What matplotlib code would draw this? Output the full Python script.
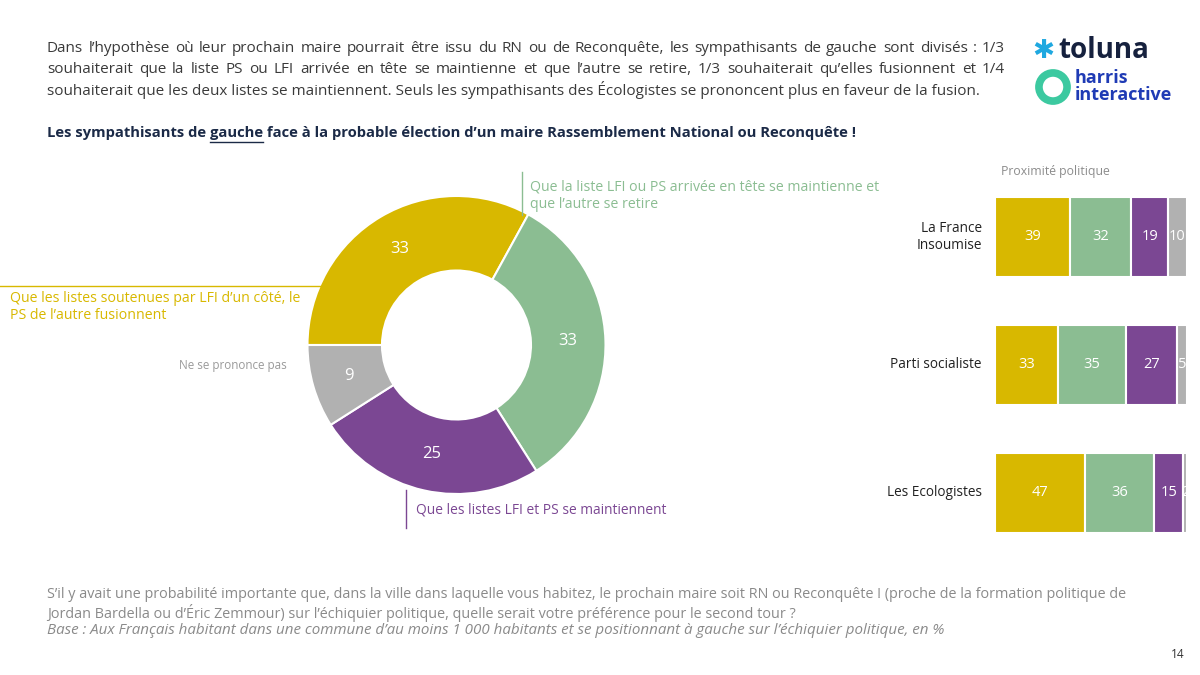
import matplotlib
matplotlib.use("Agg")
import matplotlib.pyplot as plt
from matplotlib.patches import Circle
from matplotlib.lines import Line2D
import numpy as np

plt.rcParams['font.family'] = ['Open Sans', 'DejaVu Sans']

# --- donnees ---
donut_labels = ["Que les listes soutenues par LFI d’un côté, le\nPS de l’autre fusionnent",
                "Que la liste LFI ou PS arrivée en tête se maintienne et\nque l’autre se retire",
                "Que les listes LFI et PS se maintiennent",
                "Ne se prononce pas"]
donut_values = [33, 33, 25, 9]

partis = ["La France\nInsoumise", "Parti socialiste", "Les Ecologistes"]
fusion = [39, 33, 47]
maintien_tete = [32, 35, 36]
maintien_deux = [19, 27, 15]
nsp = [10, 5, 2]

couleurs = ["#D8B800", "#8BBD92", "#7B4793", "#B1B1B1"]

W, H = 1200, 675
fig = plt.figure(figsize=(12, 6.75), dpi=100)
fig.patch.set_facecolor("white")


def fx(x):
    return x / W


def fy(y):
    return 1 - y / H


renderer = fig.canvas.get_renderer()


def largeur(s, **kw):
    t = fig.text(0, 0, s, **kw)
    w = t.get_window_extent(renderer).width
    t.remove()
    return w


# --- texte d'intro (justifie) ---
intro = [
    "Dans l’hypothèse où leur prochain maire pourrait être issu du RN ou de Reconquête, les sympathisants de gauche sont divisés : 1/3",
    "souhaiterait que la liste PS ou LFI arrivée en tête se maintienne et que l’autre se retire, 1/3 souhaiterait qu’elles fusionnent et 1/4",
    "souhaiterait que les deux listes se maintiennent. Seuls les sympathisants des Écologistes se prononcent plus en faveur de la fusion.",
]
style_intro = dict(fontsize=11.0, color="#3a3a3a", va="center")
x0, x1 = 47, 1005
for i, ligne in enumerate(intro):
    y = 49 + i * 20.5
    if i == len(intro) - 1:
        fig.text(fx(x0), fy(y), ligne, **style_intro)
        continue
    mots = ligne.split(" ")
    ws = [largeur(m, **style_intro) for m in mots]
    gap = (x1 - x0 - sum(ws)) / (len(mots) - 1)
    x = x0
    for m, w in zip(mots, ws):
        fig.text(fx(x), fy(y), m, **style_intro)
        x += w + gap

# --- sous-titre avec "gauche" souligne ---
style_st = dict(fontsize=10.6, color="#1B2A47", fontweight="bold", va="center")
sous_titre = "Les sympathisants de gauche face à la probable élection d’un maire Rassemblement National ou Reconquête !"
fig.text(fx(47), fy(133), sous_titre, **style_st)
u1 = 47 + largeur("Les sympathisants de gauche", **style_st)
u0 = u1 - largeur("gauche", **style_st)
fig.add_artist(Line2D([fx(u0), fx(u1)], [fy(142), fy(142)], color="#1B2A47", lw=1))

# --- logo ---
fig.text(fx(1043), fy(51), "✱", fontsize=19, color="#1FA8E0", ha="center", va="center",
         family=["DejaVu Sans"])
fig.text(fx(1058), fy(50), "toluna", fontsize=20, color="#16213E", fontweight="bold", va="center")
ax_logo = fig.add_axes([fx(1034), fy(106), fx(38), 38 / H])
ax_logo.set_xlim(-1, 1)
ax_logo.set_ylim(-1, 1)
ax_logo.set_aspect("equal")
ax_logo.axis("off")
ax_logo.add_patch(Circle((0, 0), 0.74, fill=False, lw=5.5, ec="#3CC9A0"))
fig.text(fx(1075), fy(78), "harris", fontsize=13, color="#1F3BB5", fontweight="bold", va="center")
fig.text(fx(1075), fy(95), "interactive", fontsize=13, color="#1F3BB5", fontweight="bold", va="center")

# --- donut ---
cx, cy, R = 456.5, 345, 149
demi = 160
ax = fig.add_axes([fx(cx - demi), fy(cy + demi), 2 * demi / W, 2 * demi / H])
lim = demi / R
wedges, _ = ax.pie(donut_values, colors=couleurs, startangle=180, counterclock=False,
                   radius=1, wedgeprops=dict(width=0.5, edgecolor="white", linewidth=1.5))
ax.set_xlim(-lim, lim)
ax.set_ylim(-lim, lim)
for wdg, v in zip(wedges, donut_values):
    a = np.deg2rad((wdg.theta1 + wdg.theta2) / 2)
    ax.text(0.75 * np.cos(a), 0.75 * np.sin(a), str(v), ha="center", va="center",
            color="white", fontsize=12)

# annotations du donut
fig.text(fx(10), fy(307), donut_labels[0], fontsize=10.15, color=couleurs[0], va="center",
         linespacing=1.25)
fig.add_artist(Line2D([0, fx(322)], [fy(286), fy(286)], color=couleurs[0], lw=1))

fig.text(fx(530), fy(196), donut_labels[1], fontsize=10.2, color=couleurs[1], va="center",
         linespacing=1.25)
fig.add_artist(Line2D([fx(522), fx(522)], [fy(172), fy(215)], color=couleurs[1], lw=1))

fig.text(fx(416), fy(510), donut_labels[2], fontsize=9.9, color=couleurs[2], va="center")
fig.add_artist(Line2D([fx(406), fx(406)], [fy(490), fy(528)], color=couleurs[2], lw=1))

fig.text(fx(287), fy(365), donut_labels[3], fontsize=8.4, color="#9a9a9a", va="center", ha="right")

# --- barres empilees ---
bx0, bx1 = 995, 1190
by0, by1 = 173, 557
axb = fig.add_axes([fx(bx0), fy(by1), (bx1 - bx0) / W, (by1 - by0) / H])
pos = np.arange(len(partis))
series = [fusion, maintien_tete, maintien_deux, nsp]
gauche = np.zeros(len(partis))
for serie, c in zip(series, couleurs):
    axb.barh(pos, serie, left=gauche, height=0.625, color=c, edgecolor="white", linewidth=1.5)
    for p, v, l in zip(pos, serie, gauche):
        axb.text(l + v / 2, p, str(v), ha="center", va="center", color="white",
                 fontsize=10.5, clip_on=True)
    gauche += np.array(serie)
axb.set_xlim(0, (bx1 - bx0) / 1.92)
axb.set_ylim(2.5, -0.5)
axb.axis("off")

for p, nom in zip(pos, partis):
    fig.text(fx(982), fy(237 + p * 128), nom, ha="right", va="center", fontsize=9.8,
             color="#222222", multialignment="right", linespacing=1.25)

fig.text(fx(1001), fy(172), "Proximité politique", fontsize=8.8, color="#8c8c8c", va="center")

# --- pied de page ---
pied = dict(color="#8a8a8a", va="center")
fig.text(fx(47), fy(594), "S’il y avait une probabilité importante que, dans la ville dans laquelle vous habitez, le prochain maire soit RN ou Reconquête ! (proche de la formation politique de",
         fontsize=10.4, **pied)
fig.text(fx(47), fy(613), "Jordan Bardella ou d’Éric Zemmour) sur l’échiquier politique, quelle serait votre préférence pour le second tour ?",
         fontsize=10.4, **pied)
fig.text(fx(47), fy(631), "Base : Aux Français habitant dans une commune d’au moins 1 000 habitants et se positionnant à gauche sur l’échiquier politique, en %",
         style="italic", fontsize=10.9, **pied)
fig.text(fx(1185), fy(655), "14", fontsize=8.5, color="#333333", ha="right", va="center")

fig.savefig("out.png", dpi=100, facecolor="white")
